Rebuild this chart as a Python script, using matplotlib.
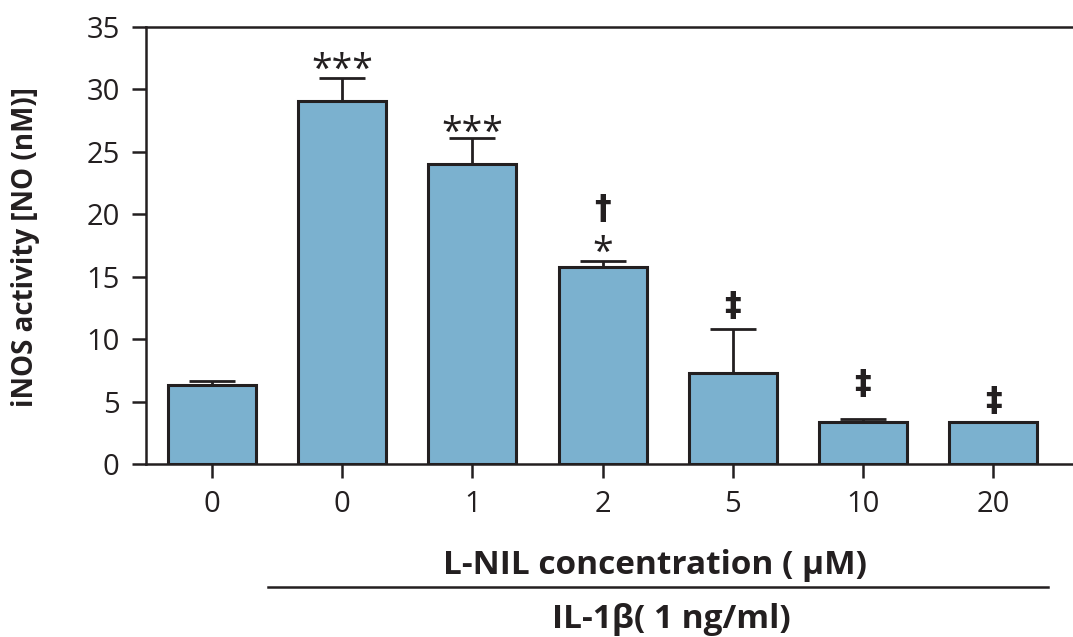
import matplotlib.pyplot as plt
import numpy as np

plt.rcParams['font.family'] = ['Open Sans', 'DejaVu Sans']

labels = ["0", "0", "1", "2", "5", "10", "20"]
means = [6.35, 29.1, 24.0, 15.75, 7.3, 3.35, 3.35]
errors = [0.3, 1.85, 2.1, 0.5, 3.5, 0.25, 0.0]
stars = ["", "***", "***", "*", "", "", ""]
star_y = [0, 30.7, 25.6, 16.0, 0, 0, 0]
daggers = ["", "", "", "\u2020", "\u2021", "\u2021", "\u2021"]
dagger_y = [0, 0, 0, 20.4, 12.6, 6.4, 5.0]

bar_color = "#7bb1cf"
edge = "#231f20"

fig = plt.figure(figsize=(10.73, 6.37), dpi=100)
ax = fig.add_axes([146 / 1073, 1 - 464 / 637, 1 - 146 / 1073, (464 - 27) / 637])

x = np.arange(len(means))
ax.bar(x, means, width=0.675, color=bar_color, edgecolor=edge, linewidth=2.2, zorder=3)

m = np.array(errors) > 0
ax.errorbar(x[m], np.array(means)[m], yerr=[np.zeros(m.sum()), np.array(errors)[m]],
            fmt="none", ecolor=edge, elinewidth=2.0, capsize=16.5, capthick=2.0, zorder=2)

for xi, s, yy in zip(x, stars, star_y):
    if s:
        ax.text(xi, yy, s, ha="center", va="baseline", fontsize=27, color=edge)
for xi, s, yy in zip(x, daggers, dagger_y):
    if s:
        ax.text(xi, yy, s, ha="center", va="center", fontsize=24, fontweight="bold",
                color=edge, family=["DejaVu Sans"])

ax.set_xlim(-0.507, 6.613)
ax.set_ylim(0, 35)
ax.set_yticks(range(0, 36, 5))
ax.set_xticks(x)
ax.set_xticklabels(labels)
ax.tick_params(axis="both", direction="out", length=10, width=1.8, color=edge,
               labelsize=21, labelcolor=edge, pad=9)
for side in ["left", "top", "bottom"]:
    ax.spines[side].set_linewidth(1.8)
    ax.spines[side].set_color(edge)
ax.spines["right"].set_visible(False)

fig.text(26 / 1073, 1 - 247 / 637, "iNOS activity [NO (nM)]", rotation=90, ha="center",
         va="center", fontsize=20, fontweight="bold", color=edge)

fig.text(655 / 1073, 1 - 565 / 637, "L-NIL concentration ( \u03bcM)", ha="center", va="center",
         fontsize=24, fontweight="bold", color=edge)
fig.add_artist(plt.Line2D([268 / 1073, 1048 / 1073], [1 - 587 / 637] * 2, color=edge, linewidth=1.8))
fig.text(671 / 1073, 1 - 619 / 637, "IL-1\u03b2( 1 ng/ml)", ha="center", va="center",
         fontsize=24, fontweight="bold", color=edge)

fig.savefig("out.png", dpi=100)
